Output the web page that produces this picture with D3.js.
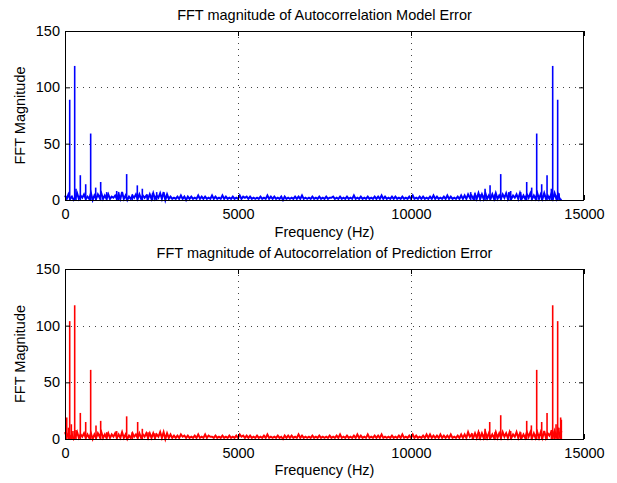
<!DOCTYPE html>
<html><head><meta charset="utf-8">
<script src="https://cdn.jsdelivr.net/npm/d3@7"></script>
<style>
body{margin:0;background:#fff}
svg text{font-family:"Liberation Sans",Arial,Helvetica,sans-serif;fill:#000}
</style>
</head><body>
<svg id="chart" width="617" height="483"></svg>
<script>
// ---------- data ----------
const xTicks = [0, 5000, 10000, 15000];
const yTicks = [0, 50, 100, 150];
const titles = ["FFT magnitude of Autocorrelation Model Error",
                "FFT magnitude of Autocorrelation of Prediction Error"];
const xLabel = "Frequency (Hz)";
const yLabel = "FFT Magnitude";
const binStep = 50; // Hz between noise-floor samples

// noise floor magnitudes, one digit per 50 Hz bin (0 .. 14350 Hz)
const noiseTop = [
 "4151302614","2513160415","2614151324","1517140314","2515142415","1614261705",
 "1312131413","0313121413","1312141312","1413121312","1413231312","1213121413",
 "1312130312","1213131412","1213121312","1312231213","1213121412","1312131213",
 "1314131213","1312131213","1412131312","1314131213","1413121314","1415241516",
 "1516141516","1415261514","2516141526","1416151614","15161510"];
const noiseBottom = [
 "6251402614","2514150415","2614151425","1416140315","2415142515","1514261605",
 "1413131423","1312131412","1413221312","1312131213","1423131312","1312131412",
 "1213120313","1312141312","1213121312","1213121314","1213121314","1312141213",
 "1314121213","1213141213","1413121314","1413131413","1314121314","1416241516",
 "1516151416","1516251614","2615141626","1516161715","36271837"];

// spikes [frequency Hz, magnitude]
const spikesTop = [
 [136,89],[280,119],[318,10],[443,22],[598,14],[742,59],[887,11],[1031,16],
 [1205,7],[1494,8],[1551,7],[1782,23],[1945,5],[2090,13],[2235,10],[2379,5],
 [2530,6],[2650,7],
 [11725,7],[11845,6],[11996,5],[12140,10],[12285,13],[12430,5],[12593,23],
 [12824,7],[12881,8],[13170,7],[13344,16],[13488,11],[13633,59],[13777,14],
 [13932,22],[14057,10],[14095,119],[14239,89],[14280,6]];
const spikesBottom = [
 [30,17],[50,19],[100,10],[136,104],[183,13],[230,7],[280,118],[318,8],
 [443,23],[598,15],[742,61],[896,12],[1031,16],[1205,6],[1494,7],[1782,20],
 [1945,6],[2100,15],[2235,9],[2400,6],[2600,5],
 [11775,5],[11975,6],[12140,9],[12275,15],[12430,6],[12593,21],[12881,7],
 [13170,6],[13344,16],[13479,12],[13633,61],[13777,15],[13932,23],[14057,8],
 [14095,118],[14145,7],[14192,13],[14239,104],[14275,10],[14325,19],[14345,17]];

const panels = [
  {title: titles[0], noise: noiseTop, spikes: spikesTop, color: "#0000ff",
   top: 31, bottom: 200, titleY: 19.5, xlabY: 236.5},
  {title: titles[1], noise: noiseBottom, spikes: spikesBottom, color: "#ff0000",
   top: 269, bottom: 439, titleY: 257.5, xlabY: 474.5}
];

// ---------- drawing ----------
const svg = d3.select("#chart");
const left = 65, right = 584;
const fs = 14.5;

panels.forEach(p => {
  const x = d3.scaleLinear().domain([0, 15000]).range([left, right]);
  const y = d3.scaleLinear().domain([0, 150]).range([p.bottom, p.top]);
  const g = svg.append("g");

  // grid
  g.selectAll(".gx").data(xTicks.slice(1, -1)).enter().append("line")
    .attr("x1", d => Math.round(x(d)) + 0.5).attr("x2", d => Math.round(x(d)) + 0.5)
    .attr("y1", p.top).attr("y2", p.bottom)
    .attr("stroke", "#444").attr("stroke-width", 1).attr("stroke-dasharray", "1,5");
  g.selectAll(".gy").data(yTicks.slice(1, -1)).enter().append("line")
    .attr("y1", d => Math.round(y(d)) + 0.5).attr("y2", d => Math.round(y(d)) + 0.5)
    .attr("x1", left).attr("x2", right)
    .attr("stroke", "#444").attr("stroke-width", 1).attr("stroke-dasharray", "1,5");

  // noise floor line
  const vals = p.noise.join("").split("").map(Number);
  const pts = vals.map((v, i) => [i * binStep, v]);
  g.append("path").datum(pts)
    .attr("d", d3.line().x(d => x(d[0])).y(d => y(d[1])))
    .attr("fill", "none").attr("stroke", p.color).attr("stroke-width", 2)
    .attr("stroke-linejoin", "miter");

  // spikes
  g.selectAll(".sp").data(p.spikes).enter().append("line")
    .attr("x1", d => x(d[0])).attr("x2", d => x(d[0]))
    .attr("y1", y(0)).attr("y2", d => y(d[1]))
    .attr("stroke", p.color).attr("stroke-width", 1.6);

  // axes (ticks inward)
  const fmt = d3.format("d");
  const ax = (axis, tr, labels) => {
    const a = g.append("g").attr("transform", tr).call(axis);
    a.select(".domain").remove();
    a.selectAll(".tick line").attr("stroke", "#000");
    if (!labels) a.selectAll("text").remove();
    else a.selectAll("text").attr("font-size", fs).attr("font-family", null).attr("fill", "#000");
    return a;
  };
  const bx = ax(d3.axisBottom(x).tickValues(xTicks).tickFormat(fmt).tickSizeInner(-5).tickSizeOuter(0).tickPadding(9),
     `translate(0,${p.bottom})`, true);
  bx.selectAll("text").attr("dy", "0.71em");
  ax(d3.axisTop(x).tickValues(xTicks).tickSizeInner(-5).tickSizeOuter(0), `translate(0,${p.top})`, false);
  ax(d3.axisLeft(y).tickValues(yTicks).tickFormat(fmt).tickSizeInner(-5).tickSizeOuter(0).tickPadding(5),
     `translate(${left},0)`, true);
  ax(d3.axisRight(y).tickValues(yTicks).tickSizeInner(-5).tickSizeOuter(0), `translate(${right},0)`, false);

  // box
  g.append("rect").attr("x", left + 0.5).attr("y", p.top + 0.5)
    .attr("width", right - left - 1).attr("height", p.bottom - p.top)
    .attr("fill", "none").attr("stroke", "#000").attr("stroke-width", 1);

  // title and labels
  g.append("text").attr("x", (left + right) / 2).attr("y", p.titleY)
    .attr("text-anchor", "middle").attr("font-size", fs).text(p.title);
  g.append("text").attr("x", (left + right) / 2).attr("y", p.xlabY)
    .attr("text-anchor", "middle").attr("font-size", fs).text(xLabel);
  g.append("text").attr("transform", `translate(25,${(p.top + p.bottom) / 2}) rotate(-90)`)
    .attr("text-anchor", "middle").attr("font-size", fs).text(yLabel);
});
</script>
</body></html>
